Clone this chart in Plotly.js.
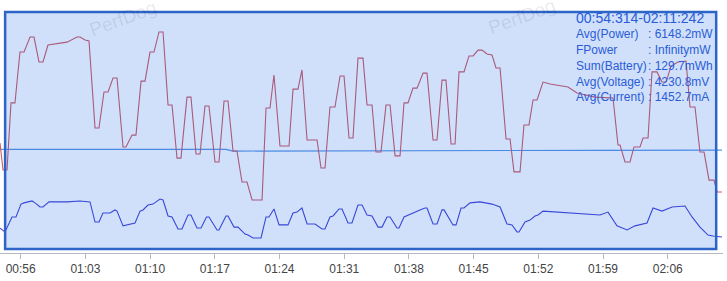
<!DOCTYPE html>
<html>
<head>
<meta charset="utf-8">
<script src="https://cdn.plot.ly/plotly-3.0.1.min.js"></script>
<style>
html,body{margin:0;padding:0;background:#fff;}
#chart{width:727px;height:281px;}
</style>
</head>
<body>
<div id="chart"></div>
<script>
// time in seconds since 00:00
const powerTime = [53.76,54.09,54.52,54.95,55.38,55.92,56.36,57.01,57.44,57.98,
58.41,58.95,61.01,61.55,62.09,62.42,62.96,63.39,64.04,64.47,
65.01,65.45,65.99,66.42,67.07,67.39,68.04,68.47,69.02,69.45,
69.99,70.42,70.96,71.40,71.94,72.37,72.91,73.34,73.99,74.42,
74.97,75.40,75.94,76.37,77.02,77.45,78.00,78.43,78.97,79.40,
79.94,80.48,81.03,82.11,82.54,82.97,83.40,84.05,85.03,85.46,
86.00,86.43,86.98,88.06,88.49,88.92,89.46,90.00,90.55,90.98,
91.52,91.95,92.49,93.03,93.47,94.01,94.44,94.98,95.52,95.96,
96.50,97.04,97.47,97.90,98.44,98.88,99.53,99.96,100.61,101.04,
101.58,102.01,102.56,102.99,103.42,103.96,104.50,104.94,105.48,105.91,
106.45,106.99,107.42,107.86,108.51,108.94,109.37,110.02,110.45,110.99,
111.43,111.86,112.51,113.27,115.21,116.19,118.13,120.08,120.62,120.84,
121.38,121.92,122.35,123.00,123.33,123.87,124.30,124.84,125.38,125.82,
126.36,127.11,127.98,128.41,128.95,129.49,129.93,130.47,131.01,131.33,
131.87];
const powerMW = [4540,3430,3430,6200,6200,8300,8300,8920,8920,7890,
7890,8590,8710,8800,8920,8920,8800,8760,5160,5160,
6650,6650,7230,7230,4380,4380,4870,4870,7100,7100,
8300,8300,9130,9130,6110,6110,3920,3920,6440,6440,
4090,4090,6070,6070,3760,3760,6280,6280,4210,4210,
2930,2930,2190,2190,5990,5990,7350,4420,4420,6770,
6770,7560,4670,4670,3510,3510,6030,6030,7310,7310,
4750,4750,8050,8050,6110,6110,4170,4170,6110,6110,
4010,4010,6200,6200,6810,6810,7430,7430,4670,4670,
7140,7140,4500,4500,7480,7480,8140,8140,8380,8380,
8220,8180,7640,7640,4710,4710,3350,3350,5290,5290,
6320,6320,7060,6980,6860,6610,6440,6400,4460,4460,
3760,3760,4380,4380,4750,4750,7480,7480,7060,7060,
7720,7890,7930,6030,6030,4170,4170,3010,3010,2520,
2520];

const currentTime = [53.76,54.30,55.06,55.49,56.03,56.36,57.22,57.55,58.09,58.41,
59.06,61.01,62.42,63.50,64.04,64.47,64.90,65.66,66.20,66.42,
67.07,67.61,68.37,68.91,69.23,69.77,70.31,71.07,71.40,71.94,
72.37,73.02,73.45,74.10,74.42,75.07,75.51,76.10,76.37,77.24,
77.45,78.21,78.43,79.08,79.51,80.27,80.59,81.13,82.00,82.54,
82.86,83.40,83.95,84.92,85.46,85.89,86.43,86.98,87.84,88.60,
88.92,89.46,89.79,90.44,90.76,91.41,91.84,92.49,92.93,93.47,
94.01,94.66,95.09,95.63,95.96,96.71,96.93,97.47,97.90,98.44,
99.20,99.74,99.96,100.61,101.04,101.58,101.80,102.77,103.10,103.64,
103.96,104.61,105.69,106.99,107.86,108.61,109.15,109.70,109.91,110.56,
111.10,111.64,111.97,112.51,115.75,116.51,118.67,119.54,120.51,121.60,
122.46,123.76,124.41,125.38,126.47,127.87,128.63,129.49,130.36,130.90,
131.87];
const currentMA = [1030,870,1490,1490,2020,2070,2150,2070,1900,1900,
2110,2110,2150,2110,1280,1280,1650,1650,1780,1730,
1120,1160,1240,1730,1780,1980,2020,2230,2190,1530,
1490,990,990,1570,1570,1030,1030,1490,1490,950,
950,1530,1530,1070,1070,780,740,620,620,1490,
1490,1820,1160,1160,1650,1690,1860,1200,1200,990,
990,1490,1530,1820,1820,1240,1240,1980,1980,1570,
1530,1070,1070,1490,1490,1030,1030,1490,1570,1650,
1780,1860,1860,1200,1200,1780,1780,1160,1160,1860,
1860,2070,2110,2020,1900,1200,1160,870,870,1280,
1360,1530,1570,1730,1650,1610,1570,1690,1120,950,
1120,1240,1860,1730,1900,1940,1490,1070,740,700,
660];

const voltageTime = [53.76,78.21,78.97,100.0,118.0,131.87];
const voltageMV = [4280,4280,4210,4210,4240,4250];

const viewStart = 53.76, viewEnd = 131.98;
const selStart = 54.314, selEnd = 131.242;
const tickStart = 56, tickStepSec = 7;

const rangeLabel = '00:54:314-02:11:242';
const statLabels = ['Avg(Power)','FPower','Sum(Battery)','Avg(Voltage)','Avg(Current)'];
const statValues = [': 6148.2mW',': InfinitymW',': 129.7mWh',': 4230.8mV',': 1452.7mA'];
const watermark = 'PerfDog';

function pad(n){return (n<10?'0':'')+n;}
function secToDate(s){
  const m = Math.floor(s/60);
  const sec = s - m*60;
  return '2000-01-01 00:' + pad(m) + ':' + sec.toFixed(3).padStart(6,'0');
}

const traces = [
  {x: voltageTime.map(secToDate), y: voltageMV, mode:'lines', line:{color:'rgb(88,148,228)', width:1.2}},
  {x: powerTime.map(secToDate), y: powerMW, mode:'lines', line:{color:'rgb(208,88,96)', width:1.1}},
  {x: currentTime.map(secToDate), y: currentMA, mode:'lines', line:{color:'rgb(66,66,212)', width:1.1}}
];

const annFont = {family:'Arial, Liberation Sans, sans-serif', color:'#2a5cd8'};
const annotations = [];
const lineYs = [0.866,0.802,0.739,0.676,0.617];
annotations.push({xref:'paper', yref:'paper', x:0.794, y:0.929, xanchor:'left', yanchor:'middle',
  text: rangeLabel, showarrow:false, font:Object.assign({size:14}, annFont)});
statLabels.forEach((lab,i)=>{
  annotations.push({xref:'paper', yref:'paper', x:0.794, y:lineYs[i], xanchor:'left', yanchor:'middle',
    text: lab, showarrow:false, font:Object.assign({size:12}, annFont)});
  annotations.push({xref:'paper', yref:'paper', x:0.893, y:lineYs[i], xanchor:'left', yanchor:'middle',
    text: statValues[i], showarrow:false, font:Object.assign({size:12}, annFont)});
});
[[0.170,0.928],[0.722,0.935]].forEach(p=>{
  annotations.push({xref:'paper', yref:'paper', x:p[0], y:p[1], xanchor:'center', yanchor:'middle',
    text: watermark, showarrow:false, textangle:-20,
    font:{family:'Arial, Liberation Sans, sans-serif', size:19, color:'rgba(0,0,0,0.09)'}});
});

const layout = {
  width:727, height:281,
  margin:{l:0, r:4, t:0, b:28, pad:0},
  paper_bgcolor:'#fff', plot_bgcolor:'#fff',
  showlegend:false,
  xaxis:{type:'date', range:[secToDate(viewStart), secToDate(viewEnd)],
    tick0: secToDate(tickStart), dtick: tickStepSec*1000, tickformat:'%M:%S',
    showgrid:false, zeroline:false, showline:true, linecolor:'#b4b9c6', linewidth:1,
    ticks:'outside', ticklen:5, tickcolor:'#b4b9c6', tickwidth:1,
    tickfont:{family:'Arial, Liberation Sans, sans-serif', size:12, color:'#444'}},
  yaxis:{range:[0,10450], visible:false, showgrid:false, zeroline:false, fixedrange:true},
  shapes:[
    {type:'rect', xref:'x', yref:'paper', layer:'above',
     x0: secToDate(selStart), x1: secToDate(selEnd), y0:0.016, y1:0.953,
     fillcolor:'rgba(20,100,230,0.2)', line:{color:'#2c64c8', width:2.5}}
  ],
  annotations: annotations
};

Plotly.newPlot('chart', traces, layout, {staticPlot:true, displayModeBar:false});
</script>
</body>
</html>
